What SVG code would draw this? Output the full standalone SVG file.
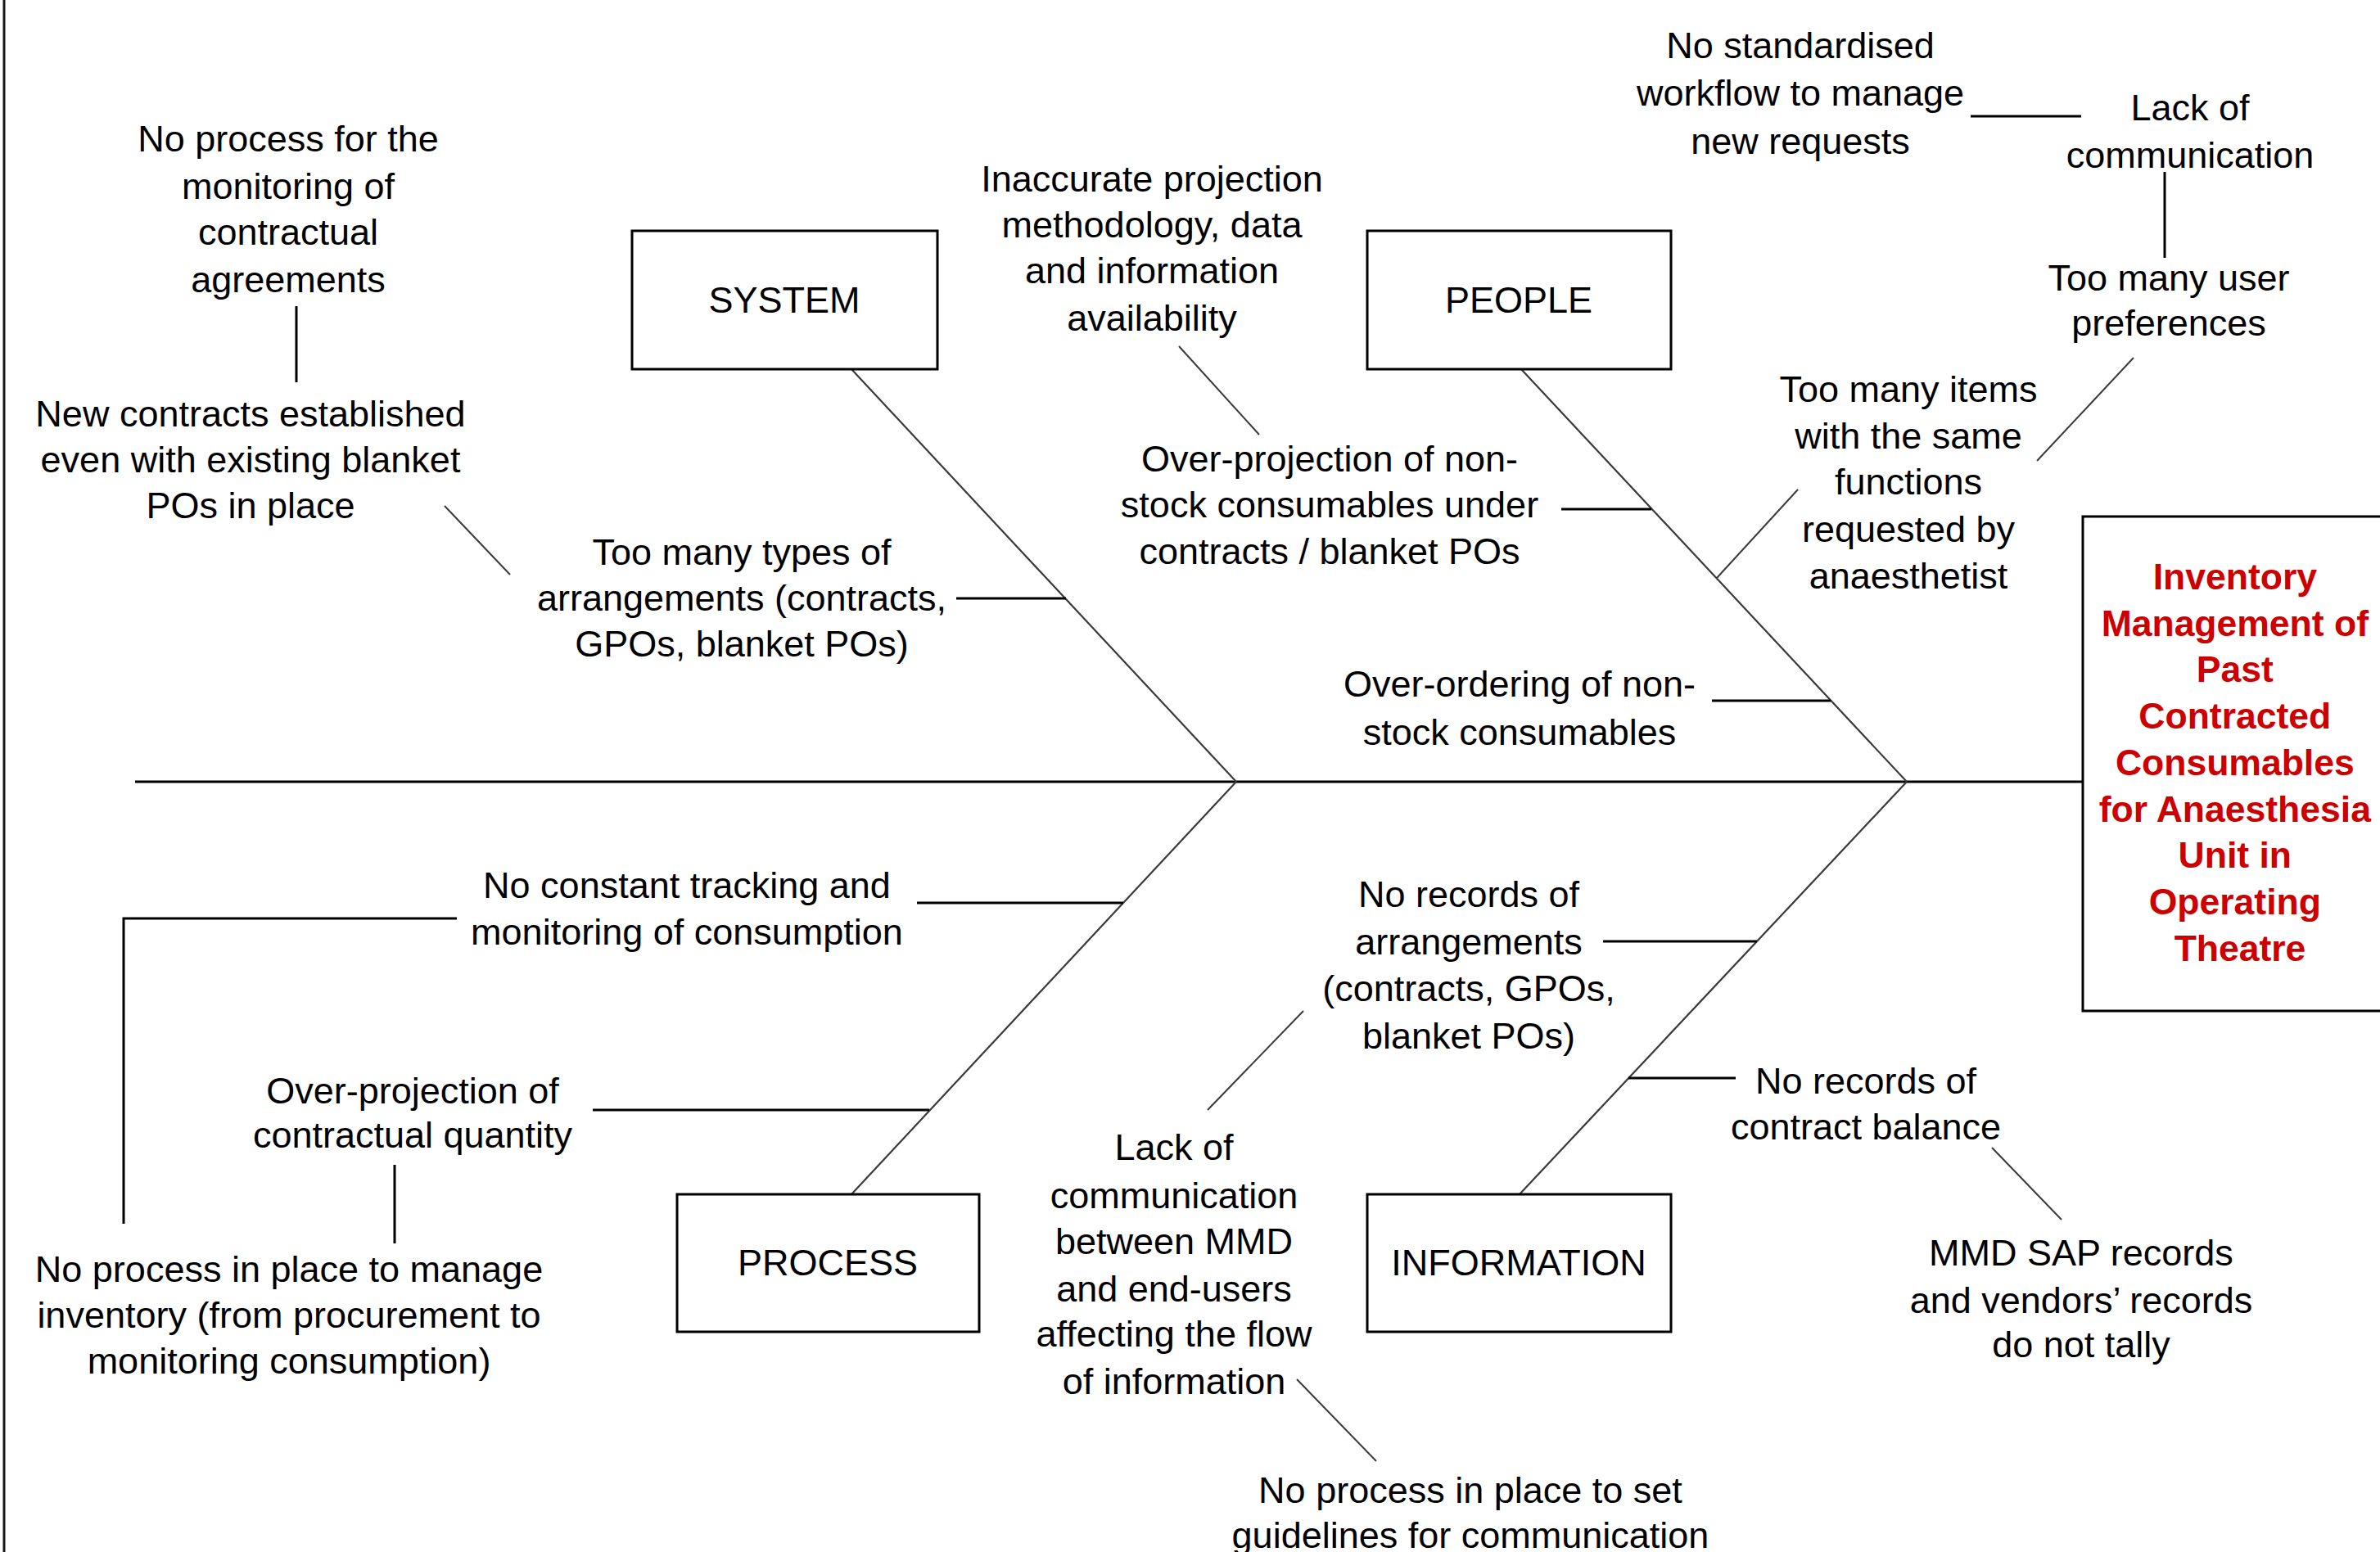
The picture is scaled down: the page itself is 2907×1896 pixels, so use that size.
<svg xmlns="http://www.w3.org/2000/svg" width="2907" height="1896" viewBox="0 0 2907 1896">
<style>
  .t { font-family: "Liberation Sans", Arial, sans-serif; font-size: 45px; fill: #000; text-anchor: middle; }
  .eff { font-family: "Liberation Sans", Arial, sans-serif; font-size: 44.5px; font-weight: bold; fill: #cc0000; text-anchor: middle; }
  .box { fill: #fff; stroke: #000; stroke-width: 3; }
  .spine { stroke: #000; stroke-width: 3; fill: none; }
  .bone { stroke: #3a3a3a; stroke-width: 2.2; fill: none; }
  .br { stroke: #000; stroke-width: 3; fill: none; }
  .dg { stroke: #3a3a3a; stroke-width: 2; fill: none; }
</style>
<rect x="0" y="0" width="2907" height="1896" fill="#fff"/>
<line x1="5" y1="0" x2="5" y2="1896" stroke="#1a1a1a" stroke-width="3"/>

<g id="connectors">
  <line class="spine" x1="165" y1="955" x2="2544" y2="955"/>
  <line class="bone" x1="1040" y1="451" x2="1510" y2="955"/>
  <line class="bone" x1="1858" y1="451" x2="2329" y2="955"/>
  <line class="bone" x1="1040" y1="1459" x2="1510" y2="955"/>
  <line class="bone" x1="1856" y1="1459" x2="2329" y2="955"/>
  <!-- system branches -->
  <line class="br" x1="1168" y1="731" x2="1302" y2="731"/>
  <line class="dg" x1="543" y1="618" x2="623" y2="702"/>
  <line class="br" x1="362" y1="374" x2="362" y2="467"/>
  <!-- people branches -->
  <line class="br" x1="1907" y1="622" x2="2017" y2="622"/>
  <line class="dg" x1="1440" y1="423" x2="1538" y2="531"/>
  <line class="br" x1="2091" y1="856" x2="2236" y2="856"/>
  <line class="dg" x1="2097" y1="706" x2="2196" y2="598"/>
  <line class="dg" x1="2488" y1="563" x2="2606" y2="437"/>
  <line class="br" x1="2644" y1="210" x2="2644" y2="315"/>
  <line class="br" x1="2407" y1="142" x2="2542" y2="142"/>
  <!-- process branches -->
  <line class="br" x1="1120" y1="1103" x2="1372" y2="1103"/>
  <polyline class="br" points="558,1122 151,1122 151,1495"/>
  <line class="br" x1="724" y1="1356" x2="1135" y2="1356"/>
  <line class="br" x1="482" y1="1423" x2="482" y2="1519"/>
  <!-- information branches -->
  <line class="br" x1="1958" y1="1150" x2="2146" y2="1150"/>
  <line class="br" x1="1989" y1="1317" x2="2120" y2="1317"/>
  <line class="dg" x1="1475" y1="1356" x2="1592" y2="1235"/>
  <line class="dg" x1="1584" y1="1685" x2="1681" y2="1785"/>
  <line class="dg" x1="2433" y1="1402" x2="2518" y2="1490"/>
</g>

<g id="system">
  <rect class="box" x="772" y="282" width="373" height="169"/>
  <text class="t" x="958" y="382">SYSTEM</text>
</g>
<g id="people">
  <rect class="box" x="1670" y="282" width="371" height="169"/>
  <text class="t" x="1855" y="382">PEOPLE</text>
</g>
<g id="process">
  <rect class="box" x="827" y="1459" width="369" height="168"/>
  <text class="t" x="1011" y="1558">PROCESS</text>
</g>
<g id="information">
  <rect class="box" x="1670" y="1459" width="371" height="168"/>
  <text class="t" x="1855" y="1558">INFORMATION</text>
</g>
<g id="effect">
  <rect class="box" x="2544" y="631" width="380" height="604"/>
  <text class="eff" x="2736">
    <tspan x="2736" y="720">Inventory</tspan>
    <tspan x="2736" y="777">Management of</tspan>
    <tspan x="2736" y="833">Past</tspan>
    <tspan x="2736" y="890">Contracted</tspan>
    <tspan x="2736" y="947">Consumables</tspan>
    <tspan x="2736" y="1004">for Anaesthesia</tspan>
    <tspan x="2736" y="1060">Unit in</tspan>
    <tspan x="2736" y="1117">Operating</tspan>
    <tspan x="2736" y="1174">Theatre</tspan>
  </text>
</g>

<g id="c-monitoring-agreements">
  <text class="t"><tspan x="352" y="185">No process for the</tspan><tspan x="352" y="243">monitoring of</tspan><tspan x="352" y="299">contractual</tspan><tspan x="352" y="357">agreements</tspan></text>
</g>
<g id="c-new-contracts">
  <text class="t"><tspan x="306" y="521">New contracts established</tspan><tspan x="306" y="577">even with existing blanket</tspan><tspan x="306" y="633">POs in place</tspan></text>
</g>
<g id="c-types">
  <text class="t"><tspan x="906" y="690">Too many types of</tspan><tspan x="906" y="746">arrangements (contracts,</tspan><tspan x="906" y="802">GPOs, blanket POs)</tspan></text>
</g>
<g id="c-inaccurate">
  <text class="t"><tspan x="1407" y="234">Inaccurate projection</tspan><tspan x="1407" y="290">methodology, data</tspan><tspan x="1407" y="346">and information</tspan><tspan x="1407" y="404">availability</tspan></text>
</g>
<g id="c-overprojection-nonstock">
  <text class="t"><tspan x="1624" y="576">Over-projection of non-</tspan><tspan x="1624" y="632">stock consumables under</tspan><tspan x="1624" y="689">contracts / blanket POs</tspan></text>
</g>
<g id="c-workflow">
  <text class="t"><tspan x="2199" y="71">No standardised</tspan><tspan x="2199" y="129">workflow to manage</tspan><tspan x="2199" y="188">new requests</tspan></text>
</g>
<g id="c-lack-comm">
  <text class="t"><tspan x="2675" y="147">Lack of</tspan><tspan x="2675" y="205">communication</tspan></text>
</g>
<g id="c-user-pref">
  <text class="t"><tspan x="2649" y="355">Too many user</tspan><tspan x="2649" y="410">preferences</tspan></text>
</g>
<g id="c-too-many-items">
  <text class="t"><tspan x="2331" y="491">Too many items</tspan><tspan x="2331" y="548">with the same</tspan><tspan x="2331" y="604">functions</tspan><tspan x="2331" y="662">requested by</tspan><tspan x="2331" y="719">anaesthetist</tspan></text>
</g>
<g id="c-overordering">
  <text class="t"><tspan x="1856" y="851">Over-ordering of non-</tspan><tspan x="1856" y="910">stock consumables</tspan></text>
</g>
<g id="c-tracking">
  <text class="t"><tspan x="839" y="1097">No constant tracking and</tspan><tspan x="839" y="1154">monitoring of consumption</tspan></text>
</g>
<g id="c-contractual-qty">
  <text class="t"><tspan x="504" y="1348">Over-projection of</tspan><tspan x="504" y="1402">contractual quantity</tspan></text>
</g>
<g id="c-manage-inventory">
  <text class="t"><tspan x="353" y="1566">No process in place to manage</tspan><tspan x="353" y="1622">inventory (from procurement to</tspan><tspan x="353" y="1678">monitoring consumption)</tspan></text>
</g>
<g id="c-records-arrangements">
  <text class="t"><tspan x="1794" y="1108">No records of</tspan><tspan x="1794" y="1166">arrangements</tspan><tspan x="1794" y="1223">(contracts, GPOs,</tspan><tspan x="1794" y="1281">blanket POs)</tspan></text>
</g>
<g id="c-lack-comm-mmd">
  <text class="t"><tspan x="1434" y="1417">Lack of</tspan><tspan x="1434" y="1476">communication</tspan><tspan x="1434" y="1532">between MMD</tspan><tspan x="1434" y="1590">and end-users</tspan><tspan x="1434" y="1645">affecting the flow</tspan><tspan x="1434" y="1703">of information</tspan></text>
</g>
<g id="c-guidelines">
  <text class="t"><tspan x="1796" y="1836">No process in place to set</tspan><tspan x="1796" y="1891">guidelines for communication</tspan></text>
</g>
<g id="c-contract-balance">
  <text class="t"><tspan x="2279" y="1336">No records of</tspan><tspan x="2279" y="1392">contract balance</tspan></text>
</g>
<g id="c-sap">
  <text class="t"><tspan x="2542" y="1546">MMD SAP records</tspan><tspan x="2542" y="1604">and vendors’ records</tspan><tspan x="2542" y="1658">do not tally</tspan></text>
</g>
</svg>
